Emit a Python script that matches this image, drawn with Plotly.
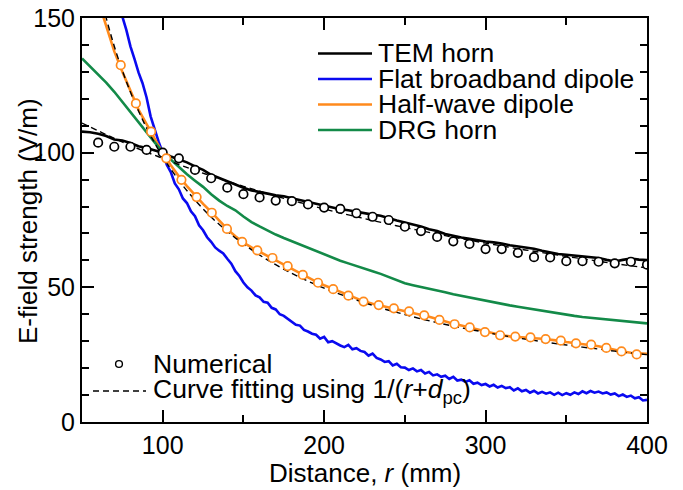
import plotly.graph_objects as go

# ---------------- data ----------------
# TEM horn, simulated (5 mm steps)
tem_r = [50, 55, 60, 65, 70, 75, 80, 85, 90, 95, 100, 105, 110, 115, 120, 125, 130, 135, 140, 145,
         150, 155, 160, 165, 170, 175, 180, 185, 190, 195, 200, 205, 210, 215, 220, 225, 230, 235, 240, 245,
         250, 255, 260, 265, 270, 275, 280, 285, 290, 295, 300, 305, 310, 315, 320, 325, 330, 335, 340, 345,
         350, 355, 360, 365, 370, 375, 380, 385, 390, 395, 400]
tem_e = [107.8, 107.6, 107.0, 106.2, 104.9, 104.5, 103.6, 102.4, 101.7, 100.8, 100.0, 98.6, 97.4, 96.4, 94.9, 93.6, 91.8, 90.6, 89.2, 88.1,
         87.0, 86.0, 85.3, 84.8, 84.2, 83.8, 83.1, 82.4, 81.7, 81.0, 80.4, 79.8, 79.0, 78.6, 78.0, 77.5, 77.0, 76.6, 75.6, 74.8,
         74.1, 73.4, 72.6, 71.6, 70.9, 69.8, 69.1, 68.5, 68.0, 67.4, 67.0, 66.7, 66.3, 65.6, 65.2, 64.7, 64.3, 63.6, 63.0, 62.4,
         62.1, 61.8, 61.3, 61.0, 60.9, 60.2, 59.6, 60.2, 60.7, 60.3, 60.1]

# TEM horn, numerical points
tem_num_r = [60, 70, 80, 90, 100, 110, 120, 130, 140, 150, 160, 170, 180, 190, 200, 210, 220, 230,
             240, 250, 260, 270, 280, 290, 300, 310, 320, 330, 340, 350, 360, 370, 380, 390, 400]
tem_num_e = [103.7, 102.2, 102.2, 101.0, 100.0, 97.9, 93.6, 90.5, 87.0, 84.6, 83.4, 82.2, 82.0, 80.8, 79.6, 79.1, 77.5, 76.2,
             75.0, 72.5, 70.9, 68.7, 67.1, 66.1, 64.2, 64.2, 62.8, 61.2, 61.1, 59.7, 59.7, 59.5, 58.9, 59.5, 58.4]

# TEM horn, curve fit
tem_fit_r = [50, 60, 70, 80, 90, 100, 110, 120, 130, 140, 150, 160, 170, 180, 190, 200, 210, 220,
             230, 240, 250, 260, 270, 280, 290, 300, 310, 320, 330, 340, 350, 360, 370, 380, 390, 400]
tem_fit_e = [111.0, 108.1, 105.3, 102.7, 100.2, 97.9, 95.6, 93.4, 91.4, 89.4, 87.5, 85.7, 83.9, 82.3, 80.7, 79.1, 77.6, 76.2,
             74.8, 73.5, 72.2, 71.0, 69.8, 68.6, 67.5, 66.4, 65.4, 64.3, 63.4, 62.4, 61.5, 60.6, 59.7, 58.8, 58.0, 57.2]

# Flat broadband dipole, simulated (2.5 mm steps)
fbd_r = [72.5, 75, 77.5, 80, 82.5, 85, 87.5, 90, 92.5, 95, 97.5, 100, 102.5, 105, 107.5, 110, 112.5, 115, 117.5, 120,
         122.5, 125, 127.5, 130, 132.5, 135, 137.5, 140, 142.5, 145, 147.5, 150, 152.5, 155, 157.5, 160, 162.5, 165, 167.5, 170,
         172.5, 175, 177.5, 180, 182.5, 185, 187.5, 190, 192.5, 195, 197.5, 200, 202.5, 205, 207.5, 210, 212.5, 215, 217.5, 220,
         222.5, 225, 227.5, 230, 232.5, 235, 237.5, 240, 242.5, 245, 247.5, 250, 252.5, 255, 257.5, 260, 262.5, 265, 267.5, 270,
         272.5, 275, 277.5, 280, 282.5, 285, 287.5, 290, 292.5, 295, 297.5, 300, 302.5, 305, 307.5, 310, 312.5, 315, 317.5, 320,
         322.5, 325, 327.5, 330, 332.5, 335, 337.5, 340, 342.5, 345, 347.5, 350, 352.5, 355, 357.5, 360, 362.5, 365, 367.5, 370,
         372.5, 375, 377.5, 380, 382.5, 385, 387.5, 390, 392.5, 395, 397.5, 400]
fbd_e = [157.0, 150.5, 145.5, 139.5, 134.8, 129.8, 125.8, 120.5, 113.5, 108.5, 104.0, 100.0, 95.5, 92.8, 88.6, 86.4, 83.0, 81.3, 78.2, 76.4,
         73.0, 71.2, 68.6, 66.9, 64.8, 63.6, 62.6, 60.6, 58.8, 56.0, 54.2, 51.8, 50.0, 48.8, 47.0, 46.3, 44.6, 44.3, 42.4, 41.8,
         40.0, 39.4, 38.2, 37.0, 36.1, 35.8, 34.2, 33.6, 32.8, 32.4, 30.9, 31.6, 29.6, 30.0, 29.1, 28.4, 27.8, 28.6, 27.0, 27.4,
         26.4, 26.0, 24.6, 25.4, 23.8, 23.2, 22.3, 22.6, 21.0, 21.6, 20.3, 20.2, 19.3, 19.9, 18.8, 19.3, 18.0, 18.6, 17.3, 17.7,
         16.8, 17.2, 16.0, 16.8, 15.4, 15.7, 14.9, 15.5, 14.2, 14.6, 13.7, 14.1, 13.2, 13.8, 12.8, 13.4, 12.6, 12.9, 11.7, 12.5,
         11.4, 11.9, 10.9, 11.6, 10.6, 11.2, 10.5, 11.0, 10.1, 10.9, 10.0, 10.7, 10.1, 11.0, 10.4, 11.4, 10.7, 11.5, 10.9, 11.3,
         10.6, 11.0, 10.2, 10.6, 9.6, 10.2, 9.3, 9.8, 8.8, 9.2, 8.0, 8.2]

# Half-wave dipole, simulated (5 mm steps)
hwd_r = [60, 65, 70, 75, 80, 85, 90, 95, 100, 105, 110, 115, 120, 125, 130, 135, 140, 145, 150, 155,
         160, 165, 170, 175, 180, 185, 190, 195, 200, 205, 210, 215, 220, 225, 230, 235, 240, 245, 250, 255,
         260, 265, 270, 275, 280, 285, 290, 295, 300, 305, 310, 315, 320, 325, 330, 335, 340, 345, 350, 355,
         360, 365, 370, 375, 380, 385, 390, 395, 400]
hwd_e = [156.5, 147.0, 137.6, 130.0, 122.8, 116.0, 110.6, 105.2, 99.8, 95.3, 91.2, 87.6, 84.1, 81.0, 78.0, 74.8, 71.6, 69.0, 66.6, 64.8,
         63.2, 61.7, 60.3, 58.7, 57.0, 55.2, 53.6, 52.1, 50.8, 49.6, 48.2, 47.0, 45.8, 44.7, 43.9, 43.2, 42.5, 41.9, 41.3, 40.6,
         39.9, 39.1, 38.2, 37.3, 36.5, 35.8, 35.1, 34.3, 33.5, 32.8, 32.2, 31.8, 31.5, 31.3, 31.1, 30.9, 30.6, 30.2, 29.7, 29.3,
         28.9, 28.6, 28.1, 27.5, 26.8, 26.2, 25.7, 25.4, 25.3]

# Half-wave dipole, numerical points
hwd_num_r = [74.0, 83.4, 92.8, 102.2, 111.6, 121.0, 130.4, 139.8, 149.2, 158.6, 168.0, 177.4, 186.8, 196.2, 205.6, 215.0,
             224.4, 233.8, 243.2, 252.6, 262.0, 271.4, 280.8, 290.2, 299.6, 309.0, 318.4, 327.8, 337.2, 346.6, 356.0, 365.4,
             374.8, 384.2, 393.6]
hwd_num_e = [132.5, 118.3, 107.8, 97.9, 89.9, 83.5, 77.7, 71.7, 66.9, 63.7, 60.9, 57.9, 54.6, 51.7, 49.3, 46.9,
             44.7, 43.4, 42.2, 41.1, 39.6, 37.9, 36.3, 35.1, 33.4, 32.2, 31.7, 31.4, 30.8, 30.2, 29.2, 28.7,
             27.5, 26.2, 25.1]

# Half-wave dipole, curve fit
hwd_fit_r = [60, 65, 70, 75, 80, 85, 90, 95, 100, 110, 120, 130, 140, 150, 160, 170, 180, 190, 200, 210,
             220, 230, 240, 250, 260, 270, 280, 290, 300, 310, 320, 330, 340, 350, 360, 370, 380, 390, 400]
hwd_fit_e = [162.0, 150.0, 139.5, 130.5, 122.5, 115.5, 109.2, 103.6, 98.5, 89.7, 82.4, 76.1, 70.8, 66.1, 62.0, 58.4, 55.2, 52.3, 49.7, 47.4,
             45.3, 43.3, 41.5, 39.9, 38.3, 36.9, 35.6, 34.4, 33.3, 32.2, 31.2, 30.3, 29.4, 28.6, 27.8, 27.1, 26.3, 25.6, 25.0]

# DRG horn, simulated (5 mm steps)
drg_r = tem_r
drg_e = [135.0, 132.0, 129.2, 126.0, 122.6, 118.8, 114.9, 111.2, 107.6, 103.8, 100.2, 97.4, 94.6, 92.0, 89.6, 87.3, 84.6, 82.2, 80.2, 78.6,
         76.3, 74.2, 72.6, 71.0, 69.6, 68.3, 67.1, 65.8, 64.5, 63.3, 62.2, 61.0, 59.9, 58.9, 58.0, 57.0, 56.0, 55.0, 53.8, 52.5,
         51.5, 50.8, 50.2, 49.6, 49.0, 48.2, 47.4, 46.8, 46.2, 45.5, 45.0, 44.5, 43.9, 43.3, 42.8, 42.3, 41.8, 41.2, 40.7, 40.2,
         39.8, 39.4, 39.0, 38.7, 38.4, 38.1, 37.8, 37.5, 37.2, 36.9, 36.6]

names = ["TEM horn", "Flat broadband dipole", "Half-wave dipole", "DRG horn"]
colors = ["#000000", "#0a0af0", "#ff8a1c", "#138a48"]

FONT = "Liberation Sans, Arial, sans-serif"

fig = go.Figure()

sim = [(tem_r, tem_e), (fbd_r, fbd_e), (hwd_r, hwd_e), (drg_r, drg_e)]
for (xr, ye), nm, c in zip(sim, names, colors):
    fig.add_trace(go.Scatter(x=xr, y=ye, mode="lines", name=nm,
                             line=dict(color=c, width=2.6), showlegend=False))

for xr, ye in [(tem_fit_r, tem_fit_e), (hwd_fit_r, hwd_fit_e)]:
    fig.add_trace(go.Scatter(x=xr, y=ye, mode="lines", line=dict(color="black", width=1.4, dash="6px,4px", shape="spline"),
                             showlegend=False))

fig.add_trace(go.Scatter(x=tem_num_r, y=tem_num_e, mode="markers",
                         marker=dict(symbol="circle", size=8.5, color="white", line=dict(color="black", width=1.7)),
                         showlegend=False))
fig.add_trace(go.Scatter(x=hwd_num_r, y=hwd_num_e, mode="markers",
                         marker=dict(symbol="circle", size=8.5, color="white", line=dict(color=colors[2], width=1.7)),
                         showlegend=False))

# ---------------- manual legends and titles ----------------
L, R, T, B = 82, 36, 18, 68
W, H = 683, 490
pw, ph = W - L - R, H - T - B

def px(xp):
    return (xp - L) / pw

def py(yp):
    return (H - B - yp) / ph

shapes = []
annotations = []
rows = [53.5, 79, 104.5, 130]
for nm, c, yy in zip(names, colors, rows):
    shapes.append(dict(type="line", xref="paper", yref="paper", x0=px(318), x1=px(372), y0=py(yy), y1=py(yy),
                       line=dict(color=c, width=2.6)))
    annotations.append(dict(xref="paper", yref="paper", x=px(376), y=py(yy), xanchor="left", yanchor="middle",
                            text=nm, showarrow=False, font=dict(family=FONT, size=26.5, color="black")))

# Numerical marker sample
shapes.append(dict(type="circle", xref="paper", yref="paper", xsizemode="pixel", ysizemode="pixel",
                   xanchor=px(119), yanchor=py(364), x0=-3.4, x1=3.4, y0=-3.4, y1=3.4,
                   line=dict(color="black", width=1.4), fillcolor="white"))
annotations.append(dict(xref="paper", yref="paper", x=px(151), y=py(364), xanchor="left", yanchor="middle",
                        text="Numerical", showarrow=False, font=dict(family=FONT, size=26.5, color="black")))
shapes.append(dict(type="line", xref="paper", yref="paper", x0=px(93), x1=px(146), y0=py(391), y1=py(391),
                   line=dict(color="black", width=1.4, dash="6px,4px")))
annotations.append(dict(xref="paper", yref="paper", x=px(151), y=py(391), xanchor="left", yanchor="middle",
                        text="Curve fitting using 1/(<i>r</i>+<i>d</i><sub>pc</sub>)", showarrow=False,
                        font=dict(family=FONT, size=26.5, color="black")))

# axis titles
annotations.append(dict(xref="paper", yref="paper", x=px(364.5), y=py(473), xanchor="center", yanchor="middle",
                        text="Distance, <i>r</i> (mm)", showarrow=False, font=dict(family=FONT, size=26, color="black")))
annotations.append(dict(xref="paper", yref="paper", x=px(28), y=py(221), xanchor="center", yanchor="middle",
                        textangle=-90, text="E-field strength (V/m)", showarrow=False,
                        font=dict(family=FONT, size=26, color="black")))

axis_common = dict(showline=True, linecolor="black", linewidth=2, mirror="ticks", ticks="inside",
                   tickcolor="black", tickwidth=1.6, showgrid=False, zeroline=False, automargin=False,
                   tickfont=dict(family=FONT, size=25, color="black"))

fig.update_layout(
    width=W, height=H,
    margin=dict(l=L, r=R, t=T, b=B, autoexpand=False),
    paper_bgcolor="white", plot_bgcolor="white",
    showlegend=False,
    shapes=shapes, annotations=annotations,
    xaxis=dict(range=[50, 400], tick0=0, dtick=100, ticklen=12,
               minor=dict(dtick=50, tick0=0, ticklen=7, ticks="inside", tickcolor="black", tickwidth=1.6),
               **axis_common),
    yaxis=dict(range=[0, 150], tick0=0, dtick=50, ticklen=12,
               minor=dict(dtick=10, tick0=0, ticklen=7, ticks="inside", tickcolor="black", tickwidth=1.6),
               **axis_common),
)

fig.write_html("out.html")
